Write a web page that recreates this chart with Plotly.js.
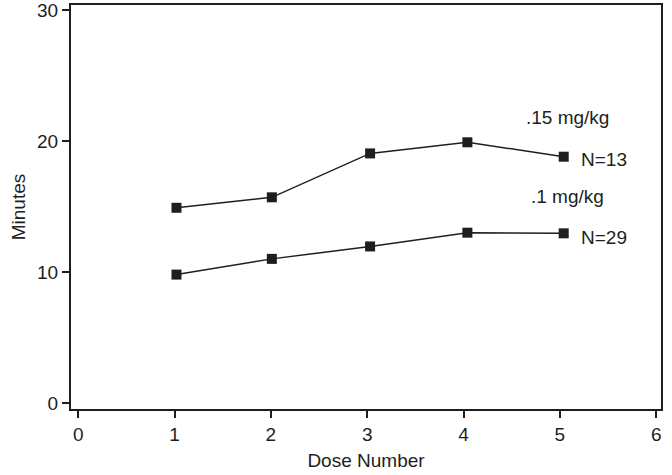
<!DOCTYPE html>
<html>
<head>
<meta charset="utf-8">
<script src="https://cdn.plot.ly/plotly-3.0.1.min.js"></script>
<style>html,body{margin:0;padding:0;background:#fff;}#chart{width:672px;height:475px;}</style>
</head>
<body>
<div id="chart"></div>
<script>
// Data
var doseX = [1.02, 2.01, 3.03, 4.04, 5.04];
var minutesHigh = [14.9, 15.7, 19.05, 19.9, 18.8];   // .15 mg/kg, N=13
var minutesLow  = [9.8, 11.0, 11.95, 13.0, 12.95];   // .1 mg/kg, N=29
var xTicks = [0, 1, 2, 3, 4, 5, 6];
var yTicks = [0, 10, 20, 30];
var labelHigh = ".15 mg/kg", nHigh = "N=13";
var labelLow = ".1 mg/kg", nLow = "N=29";

var ink = '#1e1e1e';
var FONT = 'Liberation Sans, Arial, Helvetica, sans-serif';
var FS = 19;

function series(y) {
  return {
    x: doseX, y: y, type: 'scatter', mode: 'lines+markers',
    line: {color: ink, width: 1.5},
    marker: {symbol: 'square', size: 10, color: ink},
    showlegend: false, hoverinfo: 'skip', cliponaxis: false
  };
}

var layout = {
  width: 672, height: 475,
  margin: {l: 71, r: 11, t: 5, b: 66},
  paper_bgcolor: '#fff', plot_bgcolor: '#fff',
  font: {family: FONT, size: FS, color: ink},
  xaxis: {
    range: [-0.075, 6.05], tickvals: xTicks, ticktext: xTicks.map(String),
    showgrid: false, zeroline: false, showline: true, mirror: true,
    linecolor: ink, linewidth: 2, ticks: 'outside', ticklen: 7, tickwidth: 2, tickcolor: ink,
    tickfont: {size: FS, family: FONT, color: ink}, ticklabeloverflow: 'allow',
    title: {text: 'Dose Number', font: {size: FS, family: FONT, color: ink}, standoff: 10}
  },
  yaxis: {
    range: [-0.46, 30.38], tickvals: yTicks, ticktext: yTicks.map(String),
    showgrid: false, zeroline: false, showline: true, mirror: true,
    linecolor: ink, linewidth: 2, ticks: 'outside', ticklen: 7, tickwidth: 2, tickcolor: ink,
    tickfont: {size: FS, family: FONT, color: ink}, ticklabeloverflow: 'allow',
    title: {text: 'Minutes', font: {size: FS, family: FONT, color: ink}, standoff: 6}
  },
  annotations: [
    {x: 5.08, y: 21.8, xref: 'x', yref: 'y', text: labelHigh, showarrow: false, xanchor: 'center', yanchor: 'middle', font: {size: FS, family: FONT, color: ink}},
    {x: 5.2, y: 18.6, xref: 'x', yref: 'y', text: nHigh, showarrow: false, xanchor: 'left', yanchor: 'middle', font: {size: FS, family: FONT, color: ink}},
    {x: 5.08, y: 15.76, xref: 'x', yref: 'y', text: labelLow, showarrow: false, xanchor: 'center', yanchor: 'middle', font: {size: FS, family: FONT, color: ink}},
    {x: 5.2, y: 12.62, xref: 'x', yref: 'y', text: nLow, showarrow: false, xanchor: 'left', yanchor: 'middle', font: {size: FS, family: FONT, color: ink}}
  ]
};

Plotly.newPlot('chart', [series(minutesHigh), series(minutesLow)], layout, {displayModeBar: false, staticPlot: true});
</script>
</body>
</html>
